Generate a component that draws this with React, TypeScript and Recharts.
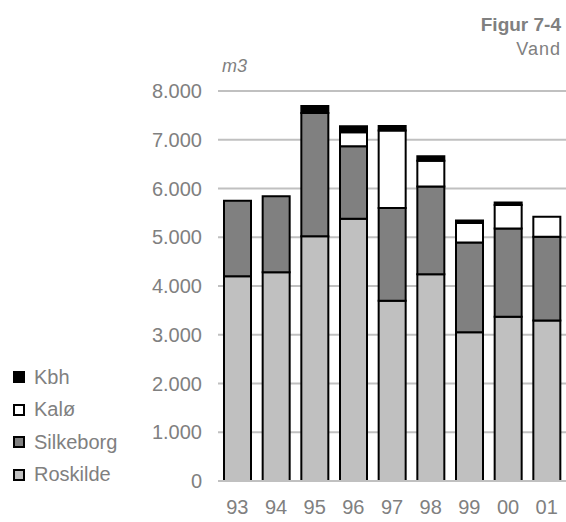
import { BarChart, Bar, XAxis, YAxis, CartesianGrid } from 'recharts';

const years = ['93', '94', '95', '96', '97', '98', '99', '00', '01'];
const roskilde = [4200, 4280, 5020, 5380, 3700, 4240, 3050, 3370, 3290];
const silkeborg = [1550, 1560, 2530, 1485, 1900, 1800, 1840, 1810, 1720];
const kaloe = [0, 0, 0, 290, 1590, 530, 400, 480, 410];
const kbh = [0, 0, 140, 120, 90, 90, 55, 55, 0];
const yTicks = [0, 1000, 2000, 3000, 4000, 5000, 6000, 7000, 8000];

const font = '"Liberation Sans", Arial, sans-serif';
const gray = '#808080';

const data = years.map((year, i) => ({
    year,
    Roskilde: roskilde[i],
    Silkeborg: silkeborg[i],
    Kalø: kaloe[i],
    Kbh: kbh[i],
}));

const legendItems = [
    { name: 'Kbh', color: '#000000' },
    { name: 'Kalø', color: '#ffffff' },
    { name: 'Silkeborg', color: '#808080' },
    { name: 'Roskilde', color: '#c0c0c0' },
];

// legend drawn outside the chart so it doesn't eat plot space
function LegendBox() {
    return (
        <div style={{ position: 'absolute', left: 13, top: 361, fontFamily: font }}>
            {legendItems.map((item) => (
                <div
                    key={item.name}
                    style={{ display: 'flex', alignItems: 'center', height: 32.5 }}
                >
                    <span
                        style={{
                            width: 8,
                            height: 8,
                            border: '2px solid #000',
                            background: item.color,
                            marginRight: 9,
                        }}
                    />
                    <span style={{ fontSize: 20, color: gray }}>{item.name}</span>
                </div>
            ))}
        </div>
    );
}

export default function App() {
    return (
        <div style={{ position: 'absolute', left: 0, top: 0, width: 566, height: 522, background: '#fff' }}>
            <div
                style={{
                    position: 'absolute',
                    right: 5,
                    top: 13,
                    textAlign: 'right',
                    fontFamily: font,
                    color: gray,
                    lineHeight: '24px',
                }}
            >
                <div style={{ fontSize: 19, fontWeight: 'bold' }}>Figur 7-4</div>
                <div style={{ fontSize: 18, letterSpacing: 1 }}>Vand</div>
            </div>
            <div
                style={{
                    position: 'absolute',
                    left: 222,
                    top: 56,
                    fontFamily: font,
                    fontStyle: 'italic',
                    fontSize: 18,
                    color: gray,
                }}
            >
                m3
            </div>
            <BarChart
                width={566}
                height={522}
                data={data}
                margin={{ top: 91, right: 0, left: 0, bottom: 0 }}
                barSize={27}
            >
                <CartesianGrid vertical={false} stroke="#c0c0c0" strokeWidth={2} />
                <XAxis
                    dataKey="year"
                    height={41}
                    tickLine={false}
                    axisLine={{ stroke: '#c0c0c0', strokeWidth: 2 }}
                    tickMargin={13}
                    tick={{ fontSize: 20, fill: gray, fontFamily: font }}
                />
                <YAxis
                    width={218}
                    domain={[0, 8000]}
                    ticks={yTicks}
                    tickFormatter={(v: number) => v.toLocaleString('da-DK')}
                    tickLine={false}
                    axisLine={false}
                    tickMargin={10}
                    tick={{ fontSize: 20, fill: gray, fontFamily: font }}
                />
                <Bar dataKey="Roskilde" stackId="a" fill="#c0c0c0" stroke="#000" strokeWidth={2} isAnimationActive={false} />
                <Bar dataKey="Silkeborg" stackId="a" fill="#808080" stroke="#000" strokeWidth={2} isAnimationActive={false} />
                <Bar dataKey="Kalø" stackId="a" fill="#ffffff" stroke="#000" strokeWidth={2} isAnimationActive={false} />
                <Bar dataKey="Kbh" stackId="a" fill="#000000" stroke="#000" strokeWidth={2} isAnimationActive={false} />
            </BarChart>
            <LegendBox />
        </div>
    );
}
